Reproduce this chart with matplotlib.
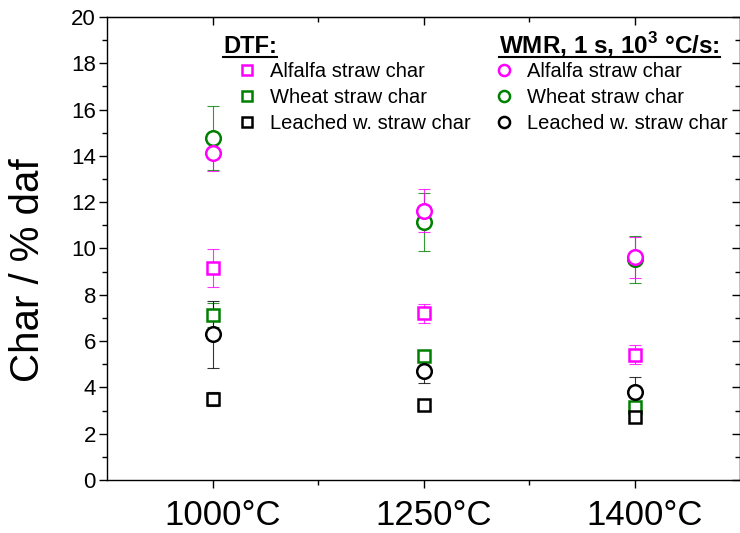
import matplotlib
matplotlib.use("Agg")
import matplotlib.pyplot as plt
from matplotlib.lines import Line2D
from matplotlib.transforms import ScaledTranslation

plt.rcParams["font.family"] = ["Liberation Sans", "DejaVu Sans"]
plt.rcParams["mathtext.fontset"] = "custom"
plt.rcParams["mathtext.rm"] = "Liberation Sans"
plt.rcParams["mathtext.bf"] = "Liberation Sans:bold"

# Data
temperatures = ["1000°C", "1250°C", "1400°C"]
series_names = ["Alfalfa straw char", "Wheat straw char", "Leached w. straw char"]

# DTF (squares)
dtf_alfalfa = [9.15, 7.2, 5.42]
dtf_alfalfa_err = [0.83, 0.42, 0.41]
dtf_wheat = [7.13, 5.36, 3.17]
dtf_wheat_err = [0.5, 0.15, 0.15]
dtf_leached = [3.5, 3.24, 2.71]
dtf_leached_err = [0.32, 0.1, 0.15]

# WMR, 1 s, 10^3 C/s (circles)
wmr_alfalfa = [14.13, 11.63, 9.62]
wmr_alfalfa_err = [0.78, 0.93, 0.88]
wmr_wheat = [14.77, 11.16, 9.53]
wmr_wheat_err = [1.4, 1.25, 1.0]
wmr_leached = [6.3, 4.72, 3.79]
wmr_leached_err = [1.45, 0.55, 0.67]

colors = ["#ff00ff", "#008000", "#000000"]

fig = plt.figure(figsize=(7.4, 5.33), dpi=100)
ax = fig.add_axes([107 / 740, 53 / 533, 633 / 740, 463 / 533])

x = list(range(len(temperatures)))


def plot_series(values, errors, color, marker, size):
    ax.errorbar(x, values, yerr=errors, fmt="none", ecolor=color,
                elinewidth=0.8, capsize=4, capthick=0.8, alpha=0.8, zorder=2)
    ax.plot(x, values, linestyle="none", marker=marker, markersize=size,
            markerfacecolor="white", markeredgecolor=color,
            markeredgewidth=1.8, zorder=3)


# draw order: wheat, alfalfa, leached
plot_series(dtf_wheat, dtf_wheat_err, colors[1], "s", 8.5)
plot_series(dtf_alfalfa, dtf_alfalfa_err, colors[0], "s", 8.5)
plot_series(dtf_leached, dtf_leached_err, colors[2], "s", 8.5)
plot_series(wmr_wheat, wmr_wheat_err, colors[1], "o", 10.5)
plot_series(wmr_alfalfa, wmr_alfalfa_err, colors[0], "o", 10.5)
plot_series(wmr_leached, wmr_leached_err, colors[2], "o", 10.5)

# Axes
ax.set_xlim(-0.5, 2.5)
ax.set_ylim(0, 20)
ax.set_xticks(x)
ax.set_xticklabels([])
ax.set_xticks([0.5, 1.5], minor=True)
ax.set_yticks(range(0, 21, 2))
ax.set_yticks(range(1, 20, 2), minor=True)
ax.tick_params(axis="y", which="major", direction="out", length=6, width=1, labelsize=16, pad=2)
ax.tick_params(axis="y", which="minor", direction="out", length=3.5, width=1)
ax.tick_params(axis="x", which="major", direction="out", length=6, width=1)
ax.tick_params(axis="x", which="minor", direction="out", length=3.5, width=1)
for s in ax.spines.values():
    s.set_linewidth(1)

# category labels sit a little right of their ticks in the original
shift = ScaledTranslation(10 / 100, -35.5 / 100, fig.dpi_scale_trans)
for xi, lab in zip(x, temperatures):
    ax.text(xi, 0, lab, fontsize=25, ha="center", va="center",
            transform=ax.get_xaxis_transform() + shift)

ax.set_ylabel("Char / % daf", fontsize=29)
ax.yaxis.set_label_coords(-0.095, 0.454)

top = ax.secondary_xaxis("top")
top.set_xticks(x)
top.set_xticks([0.5, 1.5], minor=True)
top.tick_params(which="major", direction="in", length=6, width=1, labeltop=False)
top.tick_params(which="minor", direction="in", length=3.5, width=1)

right = ax.secondary_yaxis("right")
right.set_yticks(range(0, 21, 2))
right.set_yticks(range(1, 20, 2), minor=True)
right.tick_params(which="major", direction="in", length=6, width=1, labelright=False)
right.tick_params(which="minor", direction="in", length=3.5, width=1)

# Legends
dtf_handles = [Line2D([], [], linestyle="none", marker="s", markersize=7,
                      markerfacecolor="white", markeredgecolor=c, markeredgewidth=1.8)
               for c in colors]
wmr_handles = [Line2D([], [], linestyle="none", marker="o", markersize=8,
                      markerfacecolor="white", markeredgecolor=c, markeredgewidth=1.8)
               for c in colors]

leg1 = ax.legend(dtf_handles, series_names, loc="upper left",
                 bbox_to_anchor=(231 / 740, 1 - 62 / 533), bbox_transform=fig.transFigure,
                 frameon=False, fontsize=14.5, handlelength=1.6, handletextpad=0.35,
                 labelspacing=0.34, borderpad=0, borderaxespad=0)
ax.add_artist(leg1)
leg2 = ax.legend(wmr_handles, series_names, loc="upper left",
                 bbox_to_anchor=(488 / 740, 1 - 62 / 533), bbox_transform=fig.transFigure,
                 frameon=False, fontsize=14.5, handlelength=1.6, handletextpad=0.35,
                 labelspacing=0.34, borderpad=0, borderaxespad=0)

h1 = fig.text(223 / 740, 1 - 53 / 533, "DTF:", fontsize=17, fontweight="bold",
              ha="left", va="baseline")
h2 = fig.text(499 / 740, 1 - 53 / 533, r"WMR, 1 s, 10$^{\mathbf{3}}$ °C/s:", fontsize=17.5,
              fontweight="bold", ha="left", va="baseline")

# underline the headers
fig.canvas.draw()
renderer = fig.canvas.get_renderer()
for h in (h1, h2):
    bb = h.get_window_extent(renderer).transformed(fig.transFigure.inverted())
    yline = 1 - 57 / 533
    fig.add_artist(Line2D([bb.x0, bb.x1], [yline, yline], color="black",
                          linewidth=1.5, transform=fig.transFigure))

fig.savefig("out.png", dpi=100)
